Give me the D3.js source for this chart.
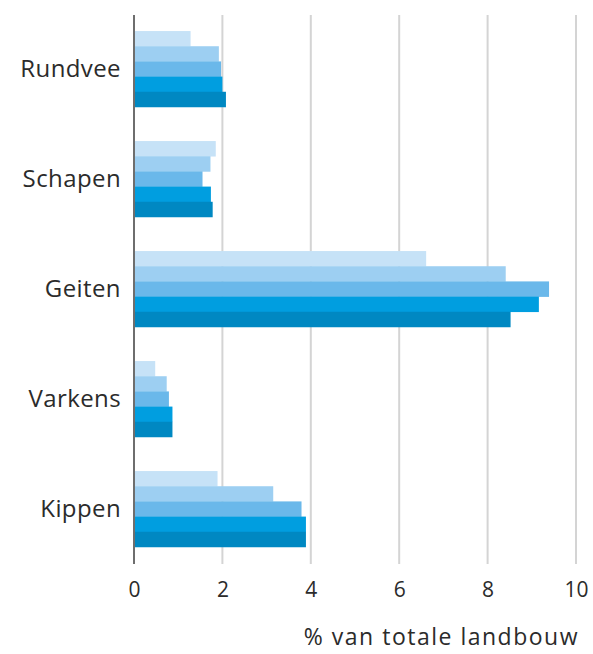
<!DOCTYPE html>
<html>
<head>
<meta charset="utf-8">
<script src="https://cdn.jsdelivr.net/npm/d3@7"></script>
<style>
  body { margin: 0; background: #fff; }
  svg { font-family: "Open Sans", "Noto Sans", sans-serif; }
</style>
</head>
<body>
<div id="chart"></div>
<script>
// categories (top to bottom)
var categories = ["Rundvee", "Schapen", "Geiten", "Varkens", "Kippen"];
// five series, light to dark (one value per category)
var series1 = [1.28, 1.85, 6.61, 0.48, 1.89];
var series2 = [1.92, 1.73, 8.41, 0.74, 3.15];
var series3 = [1.97, 1.55, 9.39, 0.79, 3.79];
var series4 = [2.00, 1.74, 9.16, 0.87, 3.89];
var series5 = [2.08, 1.78, 8.52, 0.87, 3.89];
var xTicks = [0, 2, 4, 6, 8, 10];
var axisTitle = "% van totale landbouw";

var colors = ["#c6e2f7", "#9dcff2", "#6ab8ea", "#009ee0", "#0088c2"];
var allSeries = [series1, series2, series3, series4, series5];

// set the dimensions and margins of the graph
var margin = {top: 14, right: 17, bottom: 90, left: 134},
    width = 593 - margin.left - margin.right,
    height = 654 - margin.top - margin.bottom;

var svg = d3.select("#chart")
  .append("svg")
    .attr("width", 593)
    .attr("height", 654)
  .append("g")
    .attr("transform", "translate(" + margin.left + "," + margin.top + ")");

var x = d3.scaleLinear()
    .domain([0, 10])
    .range([0, 442]);

var y = d3.scaleBand()
    .domain(categories)
    .range([0, 550])
    .paddingInner(0.31)
    .paddingOuter(0.155);

var ySub = d3.scaleBand()
    .domain(d3.range(allSeries.length))
    .range([0, y.bandwidth()]);

// gridlines
svg.append("g")
  .selectAll("line")
  .data(xTicks.slice(1))
  .enter().append("line")
    .attr("x1", d => x(d)).attr("x2", d => x(d))
    .attr("y1", 1).attr("y2", height)
    .attr("stroke", "#d4d4d4")
    .attr("stroke-width", 2);

// bars
var rows = [];
categories.forEach(function(c, i) {
  allSeries.forEach(function(s, j) {
    rows.push({cat: c, s: j, value: s[i]});
  });
});

svg.append("g")
  .selectAll("rect")
  .data(rows)
  .enter().append("rect")
    .attr("x", x(0))
    .attr("y", d => y(d.cat) + ySub(d.s))
    .attr("width", d => x(d.value) - x(0))
    .attr("height", ySub.bandwidth() + 0.3)
    .attr("fill", d => colors[d.s]);

// zero axis line
svg.append("line")
  .attr("x1", x(0)).attr("x2", x(0))
  .attr("y1", 1).attr("y2", height)
  .attr("stroke", "#6e6e6e")
  .attr("stroke-width", 2);

// category labels
svg.append("g")
  .selectAll("text")
  .data(categories)
  .enter().append("text")
    .attr("x", -13)
    .attr("y", d => y(d) + y.bandwidth() / 2)
    .attr("dy", "0.33em")
    .attr("text-anchor", "end")
    .attr("fill", "#2b2b2b")
    .style("font-size", "24px")
    .style("letter-spacing", "0.4px")
    .text(d => d);

// x axis tick labels
var xAxis = svg.append("g")
  .attr("transform", "translate(0," + height + ")")
  .call(d3.axisBottom(x).tickValues(xTicks).tickSize(0).tickPadding(18).tickFormat(d3.format("d")));
xAxis.select(".domain").remove();
xAxis.selectAll("text")
  .attr("fill", "#2b2b2b")
  .style("font-size", "21px")
  .style("font-family", "\"Open Sans\", sans-serif");

// axis title
svg.append("text")
  .attr("x", x(10) + 3)
  .attr("y", height + 81)
  .attr("text-anchor", "end")
  .attr("fill", "#2b2b2b")
  .style("font-size", "23px")
  .style("letter-spacing", "1.5px")
  .text(axisTitle);
</script>
</body>
</html>
